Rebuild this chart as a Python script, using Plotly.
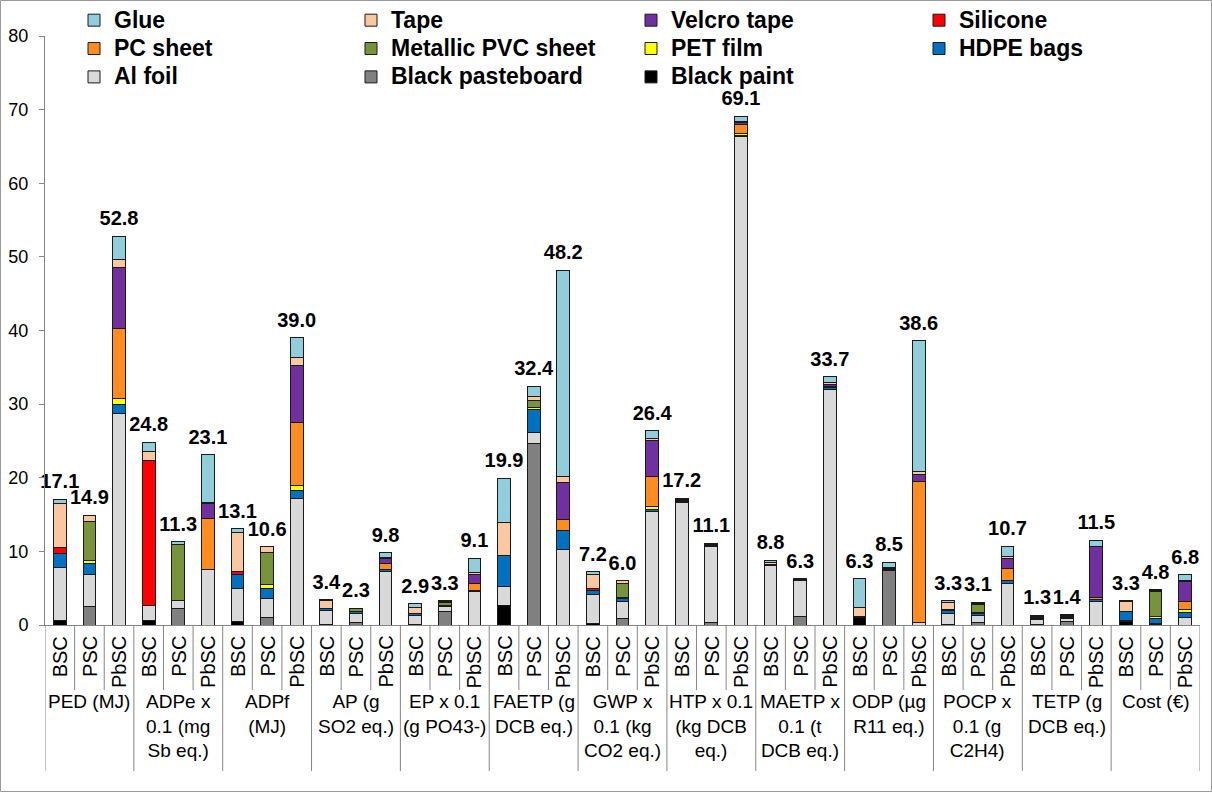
import plotly.graph_objects as go

# ---------------- data ----------------
groups = ["PED (MJ)", "ADPe x<br>0.1 (mg<br>Sb eq.)", "ADPf<br>(MJ)", "AP (g<br>SO2 eq.)",
          "EP x 0.1<br>(g PO43-)", "FAETP (g<br>DCB eq.)", "GWP x<br>0.1 (kg<br>CO2 eq.)",
          "HTP x 0.1<br>(kg DCB<br>eq.)", "MAETP x<br>0.1 (t<br>DCB eq.)", "ODP (µg<br>R11 eq.)",
          "POCP x<br>0.1 (g<br>C2H4)", "TETP (g<br>DCB eq.)", "Cost (€)"]
systems = ["BSC", "PSC", "PbSC"]

# values per bar, 3 per indicator (BSC, PSC, PbSC)
black_paint = [0.6, 0, 0, 0.6, 0, 0, 0.5, 0, 0, 0.1, 0, 0, 0.1, 0, 0, 2.6, 0, 0, 0.2, 0, 0,
               0, 0, 0, 0, 0, 0, 1.0, 0, 0, 0.1, 0, 0, 0.05, 0, 0, 0.5, 0, 0]
black_pasteboard = [0, 2.5, 0, 0, 2.2, 0, 0, 1.0, 0, 0, 0.3, 0, 0, 1.85, 0, 0, 24.6, 0, 0, 0.9, 0,
                    0, 0.4, 0, 0, 1.2, 0, 0, 7.4, 0, 0, 0.3, 0, 0, 0.5, 0, 0, 0.1, 0]
al_foil = [7.2, 4.4, 28.7, 2.0, 1.1, 7.5, 4.5, 2.65, 17.2, 1.9, 1.3, 7.3, 1.2, 0.65, 4.5,
           2.6, 1.5, 10.2, 3.9, 2.3, 15.4, 16.6, 10.3, 66.3, 8.1, 4.9, 32.0, 0.1, 0.1, 0.4,
           1.5, 1.0, 5.7, 0.75, 0.4, 3.2, 0.1, 0.1, 1.0]
hdpe_bags = [1.9, 1.4, 1.3, 0, 0, 0, 1.8, 1.35, 1.1, 0.2, 0.2, 0.3, 0.2, 0.2, 0.2, 4.2, 3.2, 2.7,
             0.6, 0.4, 0.3, 0.15, 0.1, 0.2, 0.1, 0.1, 0.2, 0, 0.1, 0, 0.4, 0.3, 0.3,
             0.15, 0.15, 0.2, 1.3, 0.7, 0.65]
pet_film = [0, 0.5, 0.7, 0, 0, 0, 0, 0.5, 0.7, 0, 0, 0, 0, 0, 0, 0, 0.2, 0, 0, 0.2, 0.4,
            0, 0, 0.3, 0, 0, 0, 0, 0, 0, 0, 0.1, 0.1, 0, 0.05, 0, 0, 0.3, 0.5]
metallic_pvc = [0, 5.2, 0, 0, 7.6, 0, 0, 4.35, 0, 0, 0.4, 0, 0, 0.4, 0, 0, 1.0, 0, 0, 1.9, 0,
                0, 0.2, 0, 0, 0.1, 0, 0, 0.1, 0, 0, 1.1, 0, 0, 0.15, 0, 0, 3.3, 0]
pc_sheet = [0, 0, 9.6, 0, 0, 7.0, 0, 0, 8.5, 0, 0, 0.8, 0, 0, 0.9, 0, 0, 1.4, 0, 0, 4.1,
            0.1, 0, 1.2, 0, 0, 0.2, 0, 0, 19.1, 0, 0.1, 1.6, 0, 0, 0.3, 0, 0.1, 1.0]
silicone = [0.8, 0, 0, 19.8, 0, 0, 0.4, 0, 0, 0, 0, 0, 0, 0, 0, 0, 0, 0, 0.3, 0, 0,
            0, 0, 0, 0, 0, 0, 0, 0, 0, 0.1, 0, 0, 0.1, 0, 0, 0, 0, 0]
velcro_tape = [0, 0, 8.3, 0, 0, 2.0, 0, 0, 7.8, 0, 0, 0.7, 0, 0, 1.3, 0, 0, 5.1, 0, 0, 4.8,
               0.1, 0, 0.3, 0, 0, 0.2, 0, 0, 1.0, 0, 0.1, 1.4, 0, 0, 6.9, 0, 0.1, 2.7]
tape = [6.0, 0.9, 1.1, 1.2, 0.1, 0.2, 5.4, 0.75, 1.0, 1.1, 0.1, 0.1, 0.9, 0.1, 0.2,
        4.5, 0.6, 0.8, 1.9, 0.3, 0.3, 0.1, 0.1, 0.1, 0.3, 0, 0.3, 1.3, 0.1, 0.3,
        0.9, 0.1, 0.2, 0.15, 0.15, 0.1, 1.3, 0.1, 0.15]
glue = [0.6, 0, 3.1, 1.2, 0.3, 6.4, 0.5, 0, 2.7, 0.1, 0, 0.6, 0.5, 0.1, 2.0, 6.0, 1.3, 28.0,
        0.3, 0, 1.1, 0.15, 0, 0.7, 0.3, 0, 0.8, 3.9, 0.7, 17.8, 0.3, 0, 1.4, 0.1, 0, 0.8,
        0.1, 0, 0.8]

# ---------------- styling ----------------
FONT = "Liberation Sans, Arial, sans-serif"
W, H = 1212, 792
ML, MR, MT, MB = 45, 12, 36, 167
PW = W - ML - MR
PH = H - MT - MB
AXIS_GREY = "#868686"

# (name, values, colour, legend column) in stacking order, bottom first
materials = [
    ("Black paint", black_paint, "#000000", "legend3"),
    ("Black pasteboard", black_pasteboard, "#808080", "legend2"),
    ("Al foil", al_foil, "#D9D9D9", "legend"),
    ("HDPE bags", hdpe_bags, "#0070C0", "legend4"),
    ("PET film", pet_film, "#FFFF00", "legend3"),
    ("Metallic PVC sheet", metallic_pvc, "#77933C", "legend2"),
    ("PC sheet", pc_sheet, "#FF8C1E", "legend"),
    ("Silicone", silicone, "#FF0000", "legend4"),
    ("Velcro tape", velcro_tape, "#7030A0", "legend3"),
    ("Tape", tape, "#FAC8A0", "legend2"),
    ("Glue", glue, "#92CDDC", "legend"),
]

group_x = [g for g in groups for _ in systems]
sys_x = systems * len(groups)
x = [group_x, sys_x]
n = len(sys_x)
k = len(systems)

fig = go.Figure()
for name, vals, color, leg in materials:
    fig.add_trace(go.Bar(
        x=x, y=[v if v else None for v in vals],
        name=f'<span style="font-size:23px">{name}</span>',
        marker=dict(color=color, line=dict(color="#1a1a1a", width=1)),
        legend=leg,
    ))

totals = [round(sum(m[1][i] for m in materials), 2) for i in range(n)]
fig.add_trace(go.Scatter(
    x=x, y=totals, mode="markers+text", text=[f"{t:.1f}" for t in totals],
    textposition="top center",
    marker=dict(size=8, color="rgba(0,0,0,0)", line=dict(width=0)),
    textfont=dict(family=FONT, size=20, color="black", weight="bold"),
    showlegend=False, cliponaxis=False, hoverinfo="skip",
))

# ---- category axis labels (two levels) drawn below the axis ----
for i, s in enumerate(sys_x):
    fig.add_annotation(x=i, xref="x", y=0, yref="paper", yshift=-9,
                       text=s, textangle=-90, showarrow=False,
                       xanchor="center", yanchor="top",
                       font=dict(family=FONT, size=20, color="black"))
    if i % k != 0:
        fig.add_shape(type="line", xref="x", yref="paper",
                      x0=i - 0.5, x1=i - 0.5, y0=0, y1=-65 / PH,
                      line=dict(color=AXIS_GREY, width=1), layer="above")

for g, name in enumerate(groups):
    fig.add_annotation(x=g * k + (k - 1) / 2, xref="x", y=0, yref="paper", yshift=-64,
                       text=name, showarrow=False, align="center",
                       xanchor="center", yanchor="top",
                       font=dict(family=FONT, size=19, color="black"))
for g in range(len(groups) + 1):
    fig.add_shape(type="line", xref="x", yref="paper",
                  x0=g * k - 0.5, x1=g * k - 0.5, y0=0, y1=-146 / PH,
                  line=dict(color=AXIS_GREY, width=1), layer="above")

# chart border
fig.add_shape(type="rect", xref="paper", yref="paper",
              x0=(0.5 - ML) / PW, x1=(W - 0.5 - ML) / PW,
              y0=-(MB - 0.5) / PH, y1=(PH + MT - 0.5) / PH,
              line=dict(color="#9A9A9A", width=1), fillcolor="rgba(0,0,0,0)")

def legend_at(text_left_px):
    return dict(
        x=(text_left_px - 39 - ML) / PW, y=(MT + PH - 1) / PH,
        xanchor="left", yanchor="top", orientation="v",
        traceorder="reversed", bgcolor="rgba(0,0,0,0)", borderwidth=0,
        font=dict(family=FONT, size=19.5, color="black", weight="bold"),
        tracegroupgap=0, itemclick=False, itemdoubleclick=False,
    )

fig.update_layout(
    width=W, height=H,
    margin=dict(l=ML, r=MR, t=MT, b=MB, pad=0, autoexpand=False),
    barmode="stack", bargap=0.57,
    plot_bgcolor="white", paper_bgcolor="white",
    font=dict(family=FONT, size=19, color="black"),
    xaxis=dict(type="multicategory", range=[-0.5, n - 0.5], showticklabels=False,
               showdividers=False, showline=True, linecolor=AXIS_GREY, linewidth=1,
               ticks="", showgrid=False, automargin=False),
    yaxis=dict(range=[0, 80], dtick=10, showline=True, linecolor=AXIS_GREY,
               linewidth=1, ticks="outside", ticklen=5, tickcolor=AXIS_GREY,
               ticklabelstandoff=7,
               showgrid=False, zeroline=False, automargin=False,
               tickfont=dict(family=FONT, size=18, color="black")),
    legend=legend_at(113),
    legend2=legend_at(390),
    legend3=legend_at(670),
    legend4=legend_at(958),
    showlegend=True,
)

fig.write_html("out.html", config={"displayModeBar": False},
               post_script="document.body.style.margin='0';")
